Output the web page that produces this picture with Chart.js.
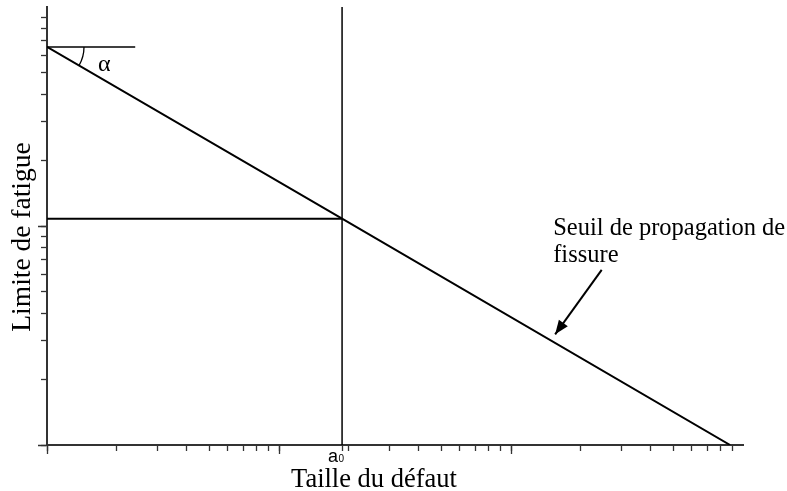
<!DOCTYPE html>
<html>
<head>
<meta charset="utf-8">
<script src="https://cdn.jsdelivr.net/npm/chart.js@4.4.1/dist/chart.umd.min.js"></script>
<style>
  html, body { margin: 0; padding: 0; background: #fff; }
</style>
</head>
<body>
<canvas id="chart" width="787" height="491"></canvas>
<script>
// Kitagawa-type diagram, log-log, arbitrary units
const xTickValues = [1, 2, 3, 4, 5, 6, 7, 8, 9, 10, 20, 30, 40, 50, 60, 70, 80, 90, 100, 200, 300, 400, 500, 600, 700, 800, 900];
const xMajorTicks = [1, 10, 100];
const yTickValues = [1, 2, 3, 4, 5, 6, 7, 8, 9, 10, 20, 30, 40, 50, 60, 70, 80, 90];
const yMajorTicks = [1, 10];
const a0 = 18.7;

const thresholdX = [1, a0, 880];
const thresholdY = [65.7, 10.8, 1];
const plateauX = [1, a0];
const plateauY = [10.8, 10.8];
const a0LineY = [1, 100];
const angleRefX = [1, 2.4];
const arrowX = [246, 155];
const arrowY = [6.3, 3.2];

const xTitle = 'Taille du défaut';
const yTitle = 'Limite de fatigue';
const noteLines = ['Seuil de propagation de', 'fissure'];
const noteX = 152, noteY = 9.1;
const alphaX = 1.66, alphaY = 51;

const pts = (xs, ys) => xs.map((v, i) => ({ x: v, y: ys[i] }));

const decorations = {
  id: 'decorations',
  afterDraw(chart) {
    const { ctx, chartArea: area, scales: { x, y } } = chart;
    ctx.save();
    ctx.strokeStyle = '#000';
    ctx.fillStyle = '#000';

    // longer major ticks
    ctx.strokeStyle = '#333';
    ctx.lineWidth = 1.3;
    ctx.beginPath();
    xMajorTicks.forEach(v => {
      const px = Math.round(x.getPixelForValue(v)) + 0.5;
      ctx.moveTo(px, area.bottom); ctx.lineTo(px, area.bottom + 9);
    });
    yMajorTicks.forEach(v => {
      const py = Math.round(y.getPixelForValue(v)) + 0.5;
      ctx.moveTo(area.left, py); ctx.lineTo(area.left - 9, py);
    });
    ctx.stroke();
    ctx.strokeStyle = '#000';

    // angle arc
    const cx = x.getPixelForValue(thresholdX[0]), cy = y.getPixelForValue(thresholdY[0]);
    const ex = x.getPixelForValue(thresholdX[2]), ey = y.getPixelForValue(thresholdY[2]);
    ctx.beginPath();
    ctx.lineWidth = 1.3;
    ctx.arc(cx, cy, 37, 0, Math.atan2(ey - cy, ex - cx));
    ctx.stroke();

    // arrow head
    const sx = x.getPixelForValue(arrowX[0]), sy = y.getPixelForValue(arrowY[0]);
    const hx = x.getPixelForValue(arrowX[1]), hy = y.getPixelForValue(arrowY[1]);
    const a = Math.atan2(hy - sy, hx - sx);
    ctx.beginPath();
    ctx.moveTo(hx, hy);
    ctx.lineTo(hx - 14 * Math.cos(a) + 5.5 * Math.sin(a), hy - 14 * Math.sin(a) - 5.5 * Math.cos(a));
    ctx.lineTo(hx - 14 * Math.cos(a) - 5.5 * Math.sin(a), hy - 14 * Math.sin(a) + 5.5 * Math.cos(a));
    ctx.closePath();
    ctx.fill();

    // annotation texts
    ctx.textBaseline = 'alphabetic';
    ctx.textAlign = 'left';
    ctx.font = '24.5px "Liberation Serif"';
    const tx = x.getPixelForValue(noteX), ty = y.getPixelForValue(noteY);
    noteLines.forEach((t, i) => ctx.fillText(t, tx, ty + i * 27));
    ctx.font = '24px "Liberation Serif"';
    ctx.fillText('α', x.getPixelForValue(alphaX), y.getPixelForValue(alphaY));

    // a0 label under its line
    const ax = x.getPixelForValue(a0);
    ctx.font = '18px "Liberation Sans"';
    ctx.textAlign = 'right';
    ctx.fillText('a', ax - 4, area.bottom + 17);
    ctx.font = '10px "Liberation Sans"';
    ctx.textAlign = 'left';
    ctx.fillText('0', ax - 3.5, area.bottom + 17);

    // axis titles
    ctx.font = '26.5px "Liberation Serif"';
    ctx.textAlign = 'center';
    ctx.fillText(xTitle, (area.left + area.right) / 2 - 21, area.bottom + 42);
    ctx.translate(area.left - 24, (area.top + area.bottom) / 2 + 11);
    ctx.rotate(-Math.PI / 2);
    ctx.font = '27.5px "Liberation Serif"';
    ctx.textBaseline = 'middle';
    ctx.fillText(yTitle, 0, 0);
    ctx.restore();
  }
};

const lineStyle = { borderColor: '#000', borderWidth: 2, pointRadius: 0, tension: 0, fill: false };

new Chart(document.getElementById('chart'), {
  type: 'line',
  data: {
    datasets: [
      { ...lineStyle, data: pts(thresholdX, thresholdY) },
      { ...lineStyle, data: pts(plateauX, plateauY) },
      { ...lineStyle, borderWidth: 1.5, data: pts([a0, a0], a0LineY) },
      { ...lineStyle, borderWidth: 1.5, data: pts(angleRefX, [thresholdY[0], thresholdY[0]]) },
      { ...lineStyle, data: pts(arrowX, arrowY) }
    ]
  },
  options: {
    responsive: false,
    animation: false,
    devicePixelRatio: 1,
    layout: { padding: { left: 0, top: 7, right: 44, bottom: 0 } },
    plugins: { legend: { display: false }, tooltip: { enabled: false } },
    scales: {
      x: {
        type: 'logarithmic',
        min: 1,
        max: 1000,
        afterBuildTicks: s => { s.ticks = xTickValues.concat([a0]).sort((p, q) => p - q).map(v => ({ value: v })); },
        afterFit: s => { s.height = 46; },
        ticks: { display: false },
        grid: { drawOnChartArea: false, drawTicks: true, tickLength: 6, tickColor: '#333', tickWidth: 1.3 },
        border: { color: '#333', width: 2 }
      },
      y: {
        type: 'logarithmic',
        min: 1,
        max: 100,
        afterBuildTicks: s => { s.ticks = yTickValues.map(v => ({ value: v })); },
        afterFit: s => { s.width = 47; },
        ticks: { display: false },
        grid: { drawOnChartArea: false, drawTicks: true, tickLength: 6, tickColor: '#333', tickWidth: 1.3 },
        border: { color: '#333', width: 2 }
      }
    }
  },
  plugins: [decorations]
});
</script>
</body>
</html>
